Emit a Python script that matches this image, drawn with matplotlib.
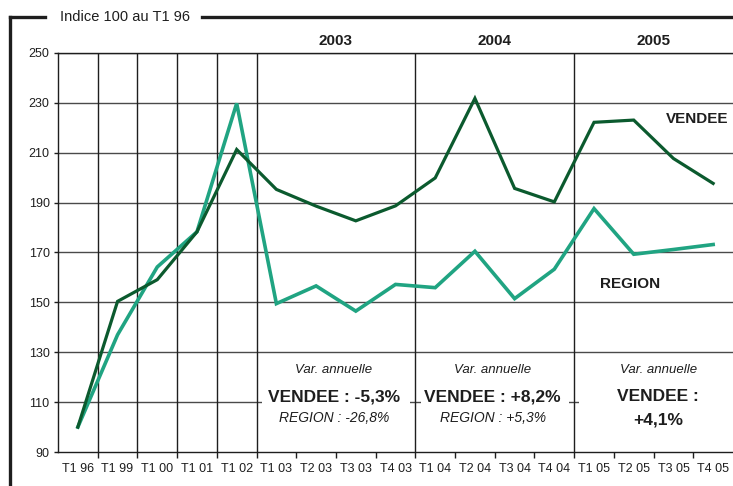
import matplotlib
matplotlib.use("Agg")
import matplotlib.pyplot as plt
from matplotlib.lines import Line2D
from matplotlib.patches import Rectangle

plt.rcParams["font.family"] = ["Liberation Sans", "DejaVu Sans"]

QUARTERS = ["T1 96", "T1 99", "T1 00", "T1 01", "T1 02",
            "T1 03", "T2 03", "T3 03", "T4 03",
            "T1 04", "T2 04", "T3 04", "T4 04",
            "T1 05", "T2 05", "T3 05", "T4 05"]
VENDEE = [100, 150.4, 159.1, 178.3, 211.3,
          195.3, 188.6, 182.7, 188.7,
          199.9, 231.8, 195.7, 190.3,
          222.2, 223.1, 207.7, 197.7]
REGION = [100, 137.0, 164.2, 178.3, 229.8,
          149.5, 156.6, 146.5, 157.2,
          155.9, 170.5, 151.5, 163.3,
          187.6, 169.3, 171.2, 173.2]
YEARS = ["2003", "2004", "2005"]
YEAR_SPANS = [(4.5, 8.5), (8.5, 12.5), (12.5, 16.5)]
VAR_VENDEE = ["VENDEE : -5,3%", "VENDEE : +8,2%", "VENDEE :\n+4,1%"]
VAR_REGION = ["REGION : -26,8%", "REGION : +5,3%", ""]
Y_TICKS = list(range(90, 251, 20))

C_VENDEE = "#0b5a2e"
C_REGION = "#20a482"
INK = "#1e1e1e"

fig = plt.figure(figsize=(7.33, 4.86), dpi=100)
ax = fig.add_axes([58 / 733, 34 / 486, 675 / 733, 399 / 486])

x = list(range(len(QUARTERS)))
ax.set_xlim(-0.5, len(QUARTERS) - 0.5)
ax.set_ylim(90, 250)

# horizontal grid
for yv in Y_TICKS[1:]:
    ax.axhline(yv, color="#4a4a4a", lw=1.0, zorder=1)

# white boxes behind the yearly variation text (they hide the 110 line)
for (a, b) in YEAR_SPANS:
    right = b - 0.13 if b < 16 else b + 0.2
    ax.add_patch(Rectangle((a + 0.13, 106), right - a - 0.13, 9,
                           facecolor="white", edgecolor="none", zorder=2))

# vertical separators
for xv in [0.5, 1.5, 2.5, 3.5, 4.5, 8.5, 12.5]:
    ax.axvline(xv, color=INK, lw=1.0, zorder=3)

ax.plot(x, VENDEE, color=C_VENDEE, lw=2.3, zorder=5, solid_joinstyle="miter")
ax.plot(x, REGION, color=C_REGION, lw=2.6, zorder=4, solid_joinstyle="miter")

ax.set_yticks(Y_TICKS)
ax.tick_params(axis="y", length=3, width=1, color=INK, labelsize=9,
               labelcolor=INK, pad=3)
ax.set_xticks(x)
ax.set_xticklabels(QUARTERS)
ax.set_xticks([i + 0.5 for i in x[:-1]], minor=True)
ax.tick_params(axis="x", which="major", length=0, labelsize=9,
               labelcolor=INK, pad=8)
ax.tick_params(axis="x", which="minor", length=4, width=1, color=INK)

for side in ["left", "bottom", "top"]:
    ax.spines[side].set_color(INK)
    ax.spines[side].set_linewidth(1.0)
ax.spines["right"].set_visible(False)

# year headers
for label, (a, b) in zip(YEARS, YEAR_SPANS):
    ax.text((a + b) / 2, 255, label, ha="center", va="center",
            fontsize=11, fontweight="bold", color=INK, clip_on=False)

# yearly variation blocks
offsets = [-0.05, -0.05, 0.12]
for (a, b), dx, vv, rv in zip(YEAR_SPANS, offsets, VAR_VENDEE, VAR_REGION):
    cx = (a + b) / 2 + dx
    ax.text(cx, 122.9, "Var. annuelle", ha="center", va="center",
            fontsize=9.5, style="italic", color=INK, zorder=6)
    if "\n" in vv:
        first, second = vv.split("\n")
        ax.text(cx, 112.2, first, ha="center", va="center", fontsize=12.5,
                fontweight="bold", color=INK, zorder=6)
        ax.text(cx, 102.8, second, ha="center", va="center", fontsize=12.5,
                fontweight="bold", color=INK, zorder=6)
    else:
        ax.text(cx, 112.2, vv, ha="center", va="center", fontsize=12.5,
                fontweight="bold", color=INK, zorder=6)
        ax.text(cx, 103.6, rv, ha="center", va="center", fontsize=10,
                style="italic", color=INK, zorder=6)

# series labels
ax.text(15.6, 223.5, "VENDEE", ha="center", va="center", fontsize=11,
        fontweight="bold", color=INK, zorder=6)
ax.text(13.9, 157.5, "REGION", ha="center", va="center", fontsize=11,
        fontweight="bold", color=INK, zorder=6)

# outer frame with title breaking the top border
ytop = 1 - 17 / 486
xl = 10 / 733
fig.add_artist(Line2D([xl, xl], [0, ytop], transform=fig.transFigure,
                      color=INK, lw=2.4, solid_capstyle="projecting"))
fig.add_artist(Line2D([xl, 45 / 733], [ytop, ytop], transform=fig.transFigure,
                      color=INK, lw=2.4, solid_capstyle="projecting"))
fig.add_artist(Line2D([202 / 733, 1.0], [ytop, ytop], transform=fig.transFigure,
                      color=INK, lw=2.4))
fig.text(60 / 733, ytop, "Indice 100 au T1 96", ha="left", va="center",
         fontsize=10.5, color=INK)

fig.savefig("out.png", dpi=100)
